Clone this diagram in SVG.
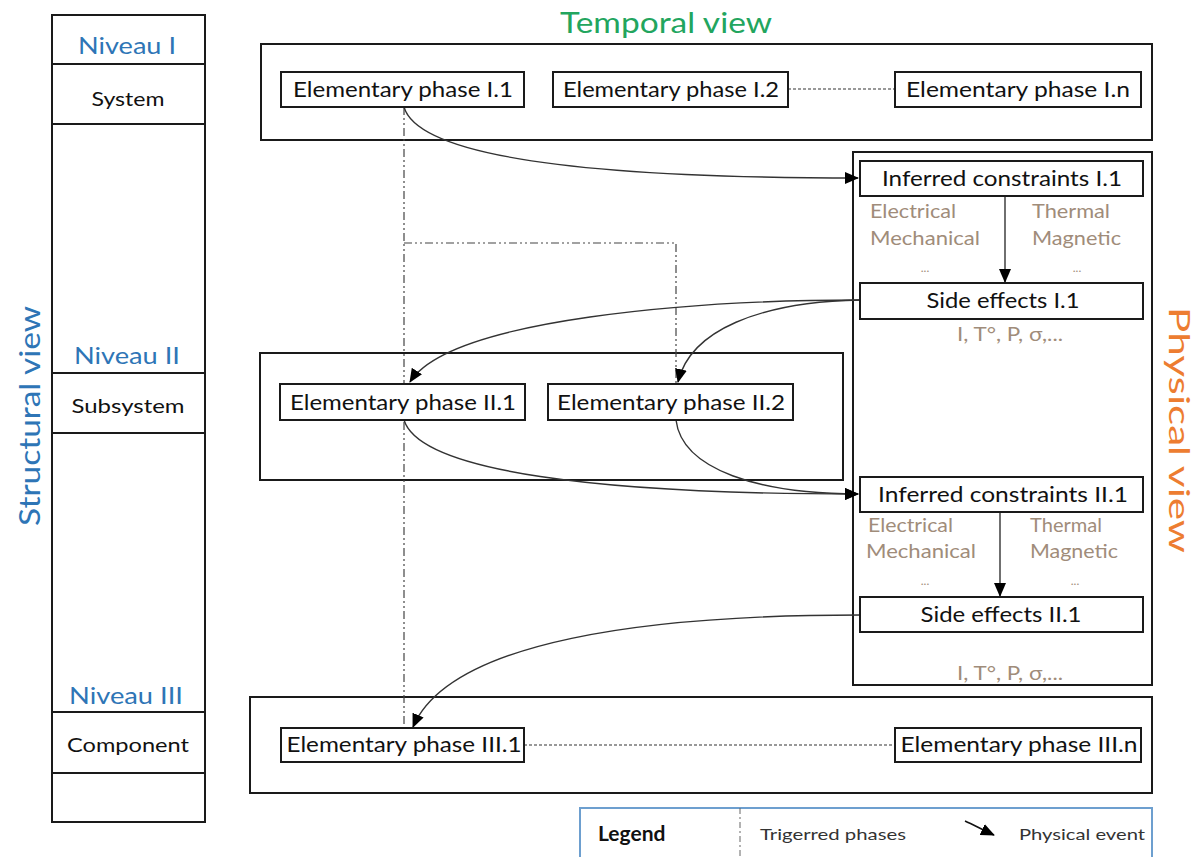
<svg xmlns="http://www.w3.org/2000/svg" width="1196" height="857" viewBox="0 0 1196 857">
<style>
.box{fill:#fff;stroke:#1a1a1a;stroke-width:2}
.frame{fill:none;stroke:#1a1a1a;stroke-width:2}
.lbl{font-family:Lato,"Open Sans",sans-serif;font-size:21px;fill:#111;text-anchor:middle}
.col{font-family:Lato,"Open Sans",sans-serif;font-size:20px;fill:#111;text-anchor:middle}
.niv{font-family:Lato,"Open Sans",sans-serif;font-size:24px;fill:#2e75b6;text-anchor:middle}
.phy{font-family:Lato,"Open Sans",sans-serif;font-size:19px;fill:#a08c7a}
.dots{font-family:Lato,"Open Sans",sans-serif;font-size:12px;fill:#a08c7a;text-anchor:middle}
.edge{fill:none;stroke:#333;stroke-width:1.4}
.trig{fill:none;stroke:#444;stroke-width:1.2;stroke-dasharray:8 3 2 3 2 3}
.dash{fill:none;stroke:#333;stroke-width:1.2;stroke-dasharray:3 2}
.title{font-family:Lato,"Open Sans",sans-serif;font-size:29px;text-anchor:middle}
</style>
<defs>
<marker id="ah" markerUnits="userSpaceOnUse" markerWidth="14" markerHeight="12" refX="13" refY="6" orient="auto">
<path d="M0,0 L14,6 L0,12 Z" fill="#000"/>
</marker>
</defs>
<rect width="1196" height="857" fill="#fff"/>

<g id="structural-column">
<rect class="frame" x="52" y="15" width="153" height="807"/>
<line class="frame" x1="52" y1="64" x2="205" y2="64"/>
<line class="frame" x1="52" y1="124" x2="205" y2="124"/>
<line class="frame" x1="52" y1="373" x2="205" y2="373"/>
<line class="frame" x1="52" y1="433" x2="205" y2="433"/>
<line class="frame" x1="52" y1="712" x2="205" y2="712"/>
<line class="frame" x1="52" y1="773" x2="205" y2="773"/>
<text class="niv" x="127" y="54" textLength="98" lengthAdjust="spacingAndGlyphs">Niveau I</text>
<text class="col" x="128" y="106" textLength="73" lengthAdjust="spacingAndGlyphs">System</text>
<text class="niv" x="127" y="364" textLength="106" lengthAdjust="spacingAndGlyphs">Niveau II</text>
<text class="col" x="128" y="413" textLength="113" lengthAdjust="spacingAndGlyphs">Subsystem</text>
<text class="niv" x="126" y="704" textLength="114" lengthAdjust="spacingAndGlyphs">Niveau III</text>
<text class="col" x="128" y="752" textLength="122" lengthAdjust="spacingAndGlyphs">Component</text>
</g>

<g id="view-titles">
<text class="title" x="28" y="416" transform="rotate(-90 28 416)" fill="#2e75b6" dominant-baseline="central" textLength="220" lengthAdjust="spacingAndGlyphs">Structural view</text>
<text class="title" x="666" y="33" fill="#22a55e" textLength="212" lengthAdjust="spacingAndGlyphs">Temporal view</text>
<text class="title" x="1180" y="430" transform="rotate(90 1180 430)" fill="#ed7d31" dominant-baseline="central" textLength="246" lengthAdjust="spacingAndGlyphs">Physical view</text>
</g>

<g id="containers">
<rect class="frame" x="261" y="44" width="891" height="96"/>
<rect class="frame" x="853" y="152" width="299" height="533"/>
<rect class="frame" x="260" y="353" width="583" height="127"/>
<rect class="frame" x="250" y="697" width="902" height="96"/>
</g>

<g id="connectors">
<path class="trig" d="M404,107 V728"/>
<path class="trig" d="M404,243 H676 V383"/>
<path class="dash" d="M788,89 H895"/>
<path class="dash" d="M524,745 H895"/>
<path class="edge" d="M404,107 C420,162 620,178 858,178" marker-end="url(#ah)"/>
<path class="edge" d="M1005,196 V282" marker-end="url(#ah)"/>
<path class="edge" d="M860,300 C700,300 450,318 410,382" marker-end="url(#ah)"/>
<path class="edge" d="M860,300 C760,302 690,330 678,382" marker-end="url(#ah)"/>
<path class="edge" d="M404,420 C420,472 600,494 858,494" marker-end="url(#ah)"/>
<path class="edge" d="M676,420 C682,470 760,494 858,494" marker-end="url(#ah)"/>
<path class="edge" d="M1000,512 V596" marker-end="url(#ah)"/>
<path class="edge" d="M860,615 C650,615 450,640 413,727" marker-end="url(#ah)"/>
</g>

<g id="phase-I1"><rect class="box" x="281" y="72" width="243" height="35"/><text class="lbl" x="403" y="97" textLength="220" lengthAdjust="spacingAndGlyphs">Elementary phase I.1</text></g>
<g id="phase-I2"><rect class="box" x="553" y="72" width="235" height="35"/><text class="lbl" x="671" y="97" textLength="216" lengthAdjust="spacingAndGlyphs">Elementary phase I.2</text></g>
<g id="phase-In"><rect class="box" x="895" y="72" width="246" height="35"/><text class="lbl" x="1018" y="97" textLength="224" lengthAdjust="spacingAndGlyphs">Elementary phase I.n</text></g>

<g id="inferred-I1"><rect class="box" x="860" y="161" width="283" height="35"/><text class="lbl" x="1002" y="186" textLength="240" lengthAdjust="spacingAndGlyphs">Inferred constraints I.1</text></g>
<g id="physics-I1">
<text class="phy" x="870" y="218" textLength="86" lengthAdjust="spacingAndGlyphs">Electrical</text>
<text class="phy" x="870" y="245" textLength="110" lengthAdjust="spacingAndGlyphs">Mechanical</text>
<text class="phy" x="1032" y="218" textLength="78" lengthAdjust="spacingAndGlyphs">Thermal</text>
<text class="phy" x="1032" y="245" textLength="89" lengthAdjust="spacingAndGlyphs">Magnetic</text>
<text class="dots" x="925" y="272">...</text>
<text class="dots" x="1077" y="272">...</text>
</g>
<g id="side-I1"><rect class="box" x="860" y="283" width="283" height="36"/><text class="lbl" x="1003" y="308" textLength="153" lengthAdjust="spacingAndGlyphs">Side effects I.1</text><text class="phy" x="1010" y="341" text-anchor="middle" textLength="106" lengthAdjust="spacingAndGlyphs">I, T°, P, σ,...</text></g>

<g id="phase-II1"><rect class="box" x="280" y="384" width="245" height="36"/><text class="lbl" x="403" y="410" textLength="226" lengthAdjust="spacingAndGlyphs">Elementary phase II.1</text></g>
<g id="phase-II2"><rect class="box" x="548" y="384" width="245" height="36"/><text class="lbl" x="671" y="410" textLength="228" lengthAdjust="spacingAndGlyphs">Elementary phase II.2</text></g>

<g id="inferred-II1"><rect class="box" x="860" y="477" width="283" height="35"/><text class="lbl" x="1003" y="502" textLength="250" lengthAdjust="spacingAndGlyphs">Inferred constraints II.1</text></g>
<g id="physics-II1">
<text class="phy" x="868" y="532" textLength="85" lengthAdjust="spacingAndGlyphs">Electrical</text>
<text class="phy" x="866" y="558" textLength="110" lengthAdjust="spacingAndGlyphs">Mechanical</text>
<text class="phy" x="1030" y="532" textLength="72" lengthAdjust="spacingAndGlyphs">Thermal</text>
<text class="phy" x="1030" y="558" textLength="88" lengthAdjust="spacingAndGlyphs">Magnetic</text>
<text class="dots" x="925" y="585">...</text>
<text class="dots" x="1075" y="585">...</text>
</g>
<g id="side-II1"><rect class="box" x="860" y="597" width="283" height="35"/><text class="lbl" x="1001" y="622" textLength="161" lengthAdjust="spacingAndGlyphs">Side effects II.1</text><text class="phy" x="1010" y="680" text-anchor="middle" textLength="106" lengthAdjust="spacingAndGlyphs">I, T°, P, σ,...</text></g>

<g id="phase-III1"><rect class="box" x="281" y="728" width="243" height="34"/><text class="lbl" x="404" y="752" textLength="235" lengthAdjust="spacingAndGlyphs">Elementary phase III.1</text></g>
<g id="phase-IIIn"><rect class="box" x="895" y="728" width="246" height="34"/><text class="lbl" x="1019" y="752" textLength="237" lengthAdjust="spacingAndGlyphs">Elementary phase III.n</text></g>

<g id="legend">
<rect x="580" y="808" width="572" height="70" fill="#fff" stroke="#6d9fcf" stroke-width="2"/>
<line x1="740" y1="808" x2="740" y2="857" stroke="#666" stroke-width="1" stroke-dasharray="6 3 2 3"/>
<text x="598" y="841" font-family="Lato,'Open Sans',sans-serif" font-size="21" font-weight="bold" fill="#111">Legend</text>
<text x="760" y="840" font-family="Lato,'Open Sans',sans-serif" font-size="15" fill="#333" textLength="146" lengthAdjust="spacingAndGlyphs">Trigerred phases</text>
<path d="M965,821 C974,825 981,829 994,835" fill="none" stroke="#111" stroke-width="1.6" marker-end="url(#ah)"/>
<text x="1019" y="840" font-family="Lato,'Open Sans',sans-serif" font-size="15" fill="#333" textLength="126" lengthAdjust="spacingAndGlyphs">Physical event</text>
</g>
</svg>
